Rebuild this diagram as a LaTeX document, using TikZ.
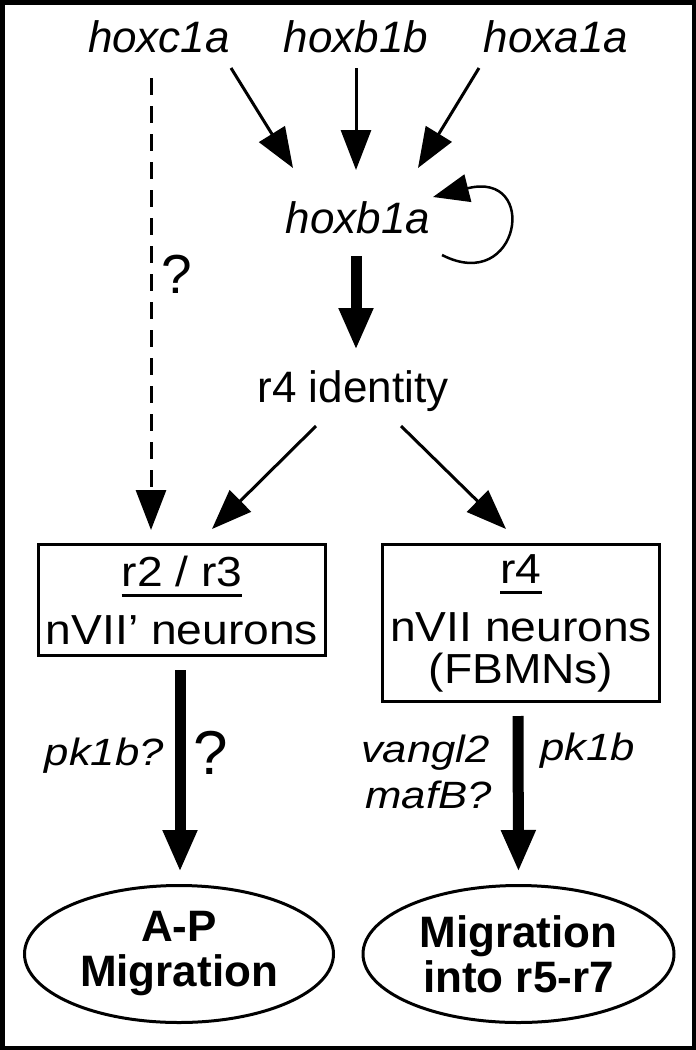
\documentclass[tikz,border=0pt]{standalone}
\usepackage{fontspec}
\setmainfont{Liberation Sans}
\newfontfamily\wfont{Liberation Sans}[FakeStretch=1.1]
\newfontfamily\lfont{Liberation Sans}[FakeStretch=1.15]
\usetikzlibrary{arrows.meta,shapes.geometric,calc}
\newcommand\myul[1]{\setbox0\hbox{#1}\rlap{\rule[-11pt]{\wd0}{3pt}}\box0}
\begin{document}
\begin{tikzpicture}[x=1pt,y=-1pt,
  toplab/.style={font=\fontsize{44}{50}\selectfont\itshape, inner sep=0pt, anchor=base},
  lab/.style={font=\lfont\itshape\fontsize{38}{40}\selectfont, inner sep=0pt},
  qmark/.style={inner sep=0pt, anchor=base},
  boxnode/.style={draw, line width=3pt, inner sep=0pt, align=center, font=\wfont\fontsize{42}{42}\selectfont},
  ellnode/.style={draw, ellipse, line width=3pt, inner sep=0pt, align=center, font=\bfseries\fontsize{44}{45}\selectfont},
  thinarrow/.style={line width=3pt, -{Triangle[length=40pt,width=30pt]}},
  dasharrow/.style={thinarrow, dash pattern=on 17pt off 11pt},
  thickarrow/.style={line width=11pt, -{Triangle[length=42pt,width=32pt]}},
  looparrow/.style={line width=2.5pt, -{Triangle[length=36pt,width=28pt]}}
]
\useasboundingbox (0,0) rectangle (696,1050);
\draw[line width=4.5pt] (2.25,2.25) rectangle (693.75,1047.75);

% nodes
\node[toplab] (hoxc1a) at (159,52) {hoxc1a};
\node[toplab] (hoxb1b) at (356,52) {hoxb1b};
\node[toplab] (hoxa1a) at (556,52) {hoxa1a};
\node[toplab] (hoxb1a) at (358,233) {hoxb1a};
\node[toplab, font=\fontsize{44}{50}\selectfont] (r4id) at (353,402) {r4 identity};

\node[boxnode, minimum width=287pt, minimum height=111pt] (boxL) at (182,600)
  {\myul{r2 / r3}\\[16pt]nVII’ neurons};
\node[boxnode, minimum width=277pt, minimum height=157pt] (boxR) at (521,623)
  {\myul{r4}\\[16pt]nVII neurons\\(FBMNs)};

\node[ellnode, minimum width=309pt, minimum height=137pt] (ellL) at (179,954)
  {A-P\\Migration};
\node[ellnode, minimum width=311pt, minimum height=137pt] (ellR) at (518.5,954)
  {Migration\\into r5-r7};

% labels
\node[qmark, font=\fontsize{55}{60}\selectfont] (q1) at (177,293) {?};
\node[lab, anchor=base east] (lpk) at (164,765) {pk1b?};
\node[qmark, font=\fontsize{62}{66}\selectfont] (q2) at (211,774) {?};
\node[lab, anchor=base east] (lvang) at (490,762) {vangl2};
\node[lab, anchor=base east] (lmaf) at (492,808) {mafB?};
\node[lab, anchor=base west] (lpk2) at (540,760) {pk1b};

% connectors
\draw[thinarrow] ($(hoxc1a.base)+(72,16)$) -- ($(hoxb1a.base)+(-65,-65)$);
\draw[thinarrow] ($(hoxb1b.base)+(0,16)$) -- ($(hoxb1a.base)+(-2,-63)$);
\draw[thinarrow] ($(hoxa1a.base)+(-77,16)$) -- ($(hoxb1a.base)+(60,-65)$);
\draw[looparrow] ($(hoxb1a.base)+(84,22)$) .. controls ($(hoxb1a.base)+(162,62)$) and ($(hoxb1a.base)+(182,-63)$) .. ($(hoxb1a.base)+(75,-36)$);
\draw[thickarrow] ($(hoxb1a.base)+(-2,23)$) -- ($(r4id.base)+(3,-52)$);
\draw[dasharrow] ($(hoxc1a.base)+(-8,26)$) -- ($(boxL.north)+(-31,-13)$);
\draw[thinarrow] ($(r4id.base)+(-37,24)$) -- ($(boxL.north)+(30,-14)$);
\draw[thinarrow] ($(r4id.base)+(48,24)$) -- ($(boxR.north)+(-15,-14)$);
\draw[thickarrow] ($(boxL.south)+(-2,13)$) -- ($(ellL.north)+(1,-12)$);
\draw[thickarrow] ($(boxR.south)+(-3,13)$) -- ($(ellR.north)+(0,-12)$);
\end{tikzpicture}
\end{document}
